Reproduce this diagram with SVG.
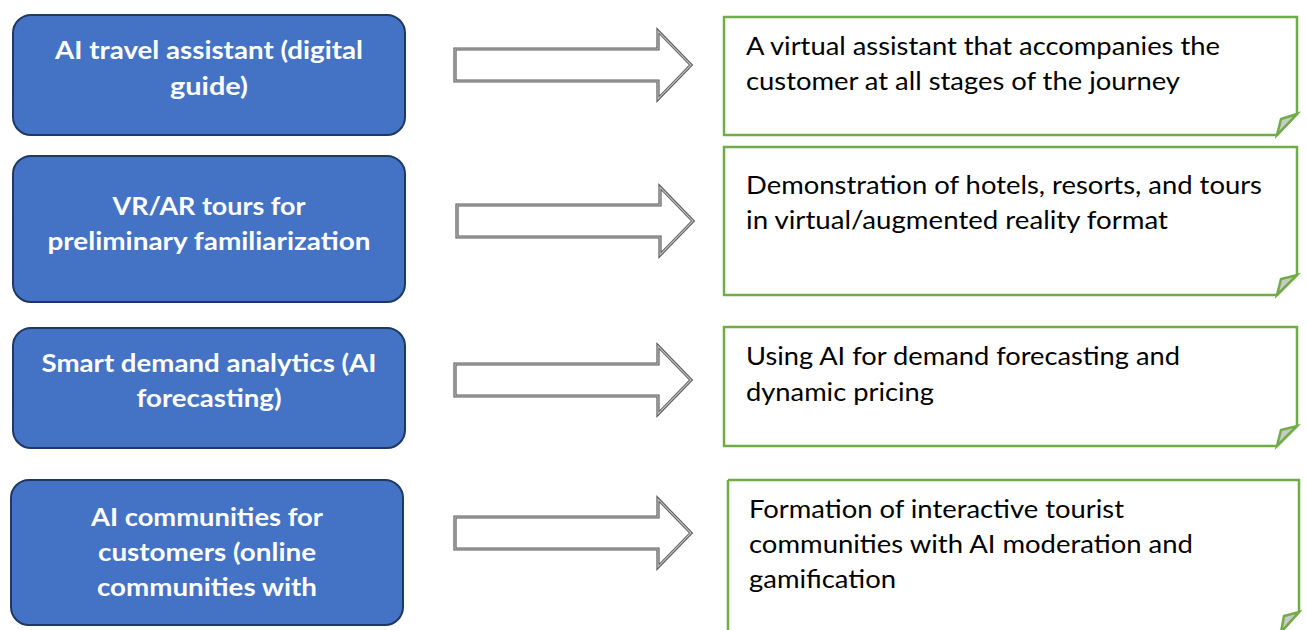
<svg xmlns="http://www.w3.org/2000/svg" width="1307" height="630" viewBox="0 0 1307 630">
<style>
.box{fill:#4472C4;stroke:#1F3864;stroke-width:2}
.lt{font-family:Lato,"Liberation Sans",sans-serif;font-weight:bold;font-size:24px;fill:#fff;text-anchor:middle}
.note{fill:#fff;stroke:#70AD47;stroke-width:2.5}
.fold{fill:#C9C9C9;stroke:#70AD47;stroke-width:2.5;stroke-linejoin:miter}
.rt{font-family:Lato,"Liberation Sans",sans-serif;font-size:25px;fill:#000}
.arO{fill:#fff;stroke:#5a5a5a;stroke-width:3.2}
.arI{fill:none;stroke:#c4c4c4;stroke-width:1.1}
</style>
<rect width="1307" height="630" fill="#fff"/>
<g id="n1">
<rect class="box" x="13" y="15" width="392" height="120" rx="18"/>
<text class="lt" x="209" y="59" textLength="308" lengthAdjust="spacingAndGlyphs">AI travel assistant (digital</text>
<text class="lt" x="209" y="95" textLength="78" lengthAdjust="spacingAndGlyphs">guide)</text>
</g>
<g id="n2">
<rect class="box" x="13" y="156" width="392" height="146" rx="18"/>
<text class="lt" x="209" y="215" textLength="193" lengthAdjust="spacingAndGlyphs">VR/AR tours for</text>
<text class="lt" x="209" y="250" textLength="323" lengthAdjust="spacingAndGlyphs">preliminary familiarization</text>
</g>
<g id="n3">
<rect class="box" x="13" y="328" width="392" height="120" rx="18"/>
<text class="lt" x="209" y="372" textLength="335" lengthAdjust="spacingAndGlyphs">Smart demand analytics (AI</text>
<text class="lt" x="209" y="407" textLength="145" lengthAdjust="spacingAndGlyphs">forecasting)</text>
</g>
<g id="n4">
<rect class="box" x="11" y="480" width="392" height="145" rx="18"/>
<text class="lt" x="207" y="526" textLength="232" lengthAdjust="spacingAndGlyphs">AI communities for</text>
<text class="lt" x="207" y="561" textLength="218" lengthAdjust="spacingAndGlyphs">customers (online</text>
<text class="lt" x="207" y="596" textLength="220" lengthAdjust="spacingAndGlyphs">communities with</text>
</g>
<g id="connectors">
<path class="arO" d="M455,49 H658 V31 L691,65 L658,99 V81 H455 Z"/>
<path class="arI" d="M455,49 H658 V31 L691,65 L658,99 V81 H455 Z"/>
<path class="arO" d="M457,205 H660 V187 L693,221 L660,255 V237 H457 Z"/>
<path class="arI" d="M457,205 H660 V187 L693,221 L660,255 V237 H457 Z"/>
<path class="arO" d="M455,364 H658 V346 L691,380 L658,414 V396 H455 Z"/>
<path class="arI" d="M455,364 H658 V346 L691,380 L658,414 V396 H455 Z"/>
<path class="arO" d="M455,517 H658 V499 L691,533 L658,567 V549 H455 Z"/>
<path class="arI" d="M455,517 H658 V499 L691,533 L658,567 V549 H455 Z"/>
</g>
<g id="d1">
<path class="note" d="M724,17 H1297 V114 L1277,135 H724 Z"/>
<path class="fold" d="M1277,135 L1281,119 L1297,114 Z"/>
<text class="rt" x="746" y="55" textLength="474" lengthAdjust="spacingAndGlyphs">A virtual assistant that accompanies the</text>
<text class="rt" x="746" y="90" textLength="434" lengthAdjust="spacingAndGlyphs">customer at all stages of the journey</text>
</g>
<g id="d2">
<path class="note" d="M724,147 H1297 V275 L1277,295 H724 Z"/>
<path class="fold" d="M1277,295 L1281,279 L1297,275 Z"/>
<text class="rt" x="746" y="194" textLength="516" lengthAdjust="spacingAndGlyphs">Demonstration of hotels, resorts, and tours</text>
<text class="rt" x="746" y="229" textLength="422" lengthAdjust="spacingAndGlyphs">in virtual/augmented reality format</text>
</g>
<g id="d3">
<path class="note" d="M724,327 H1297 V426 L1277,446 H724 Z"/>
<path class="fold" d="M1277,446 L1281,430 L1297,426 Z"/>
<text class="rt" x="746" y="365" textLength="434" lengthAdjust="spacingAndGlyphs">Using AI for demand forecasting and</text>
<text class="rt" x="746" y="401" textLength="188" lengthAdjust="spacingAndGlyphs">dynamic pricing</text>
</g>
<g id="d4">
<path class="note" d="M728,480 H1299 V612 L1281,632 M728,480 V632"/>
<path class="fold" d="M1281,632 L1284,616 L1299,612 Z"/>
<text class="rt" x="749" y="518" textLength="375" lengthAdjust="spacingAndGlyphs">Formation of interactive tourist</text>
<text class="rt" x="749" y="553" textLength="444" lengthAdjust="spacingAndGlyphs">communities with AI moderation and</text>
<text class="rt" x="749" y="588" textLength="147" lengthAdjust="spacingAndGlyphs">gamification</text>
</g>
</svg>
